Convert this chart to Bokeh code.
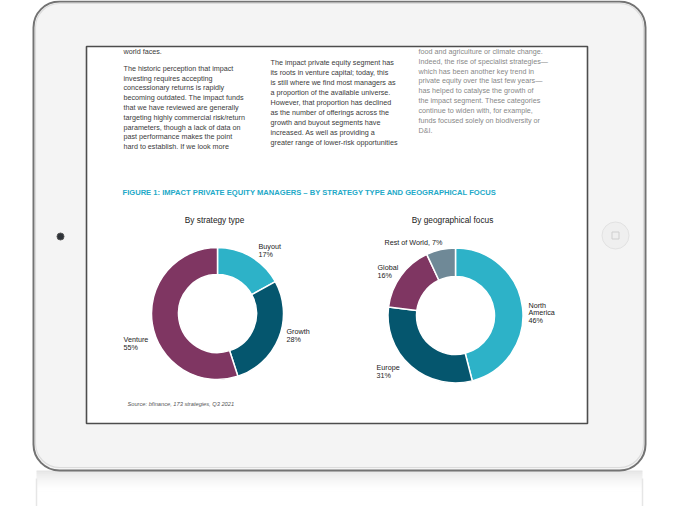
import numpy as np
from bokeh.plotting import figure
from bokeh.models import Range1d, ColumnDataSource
from bokeh.core.properties import value
from bokeh.embed import file_html
from bokeh.resources import INLINE

# ---------------- data ----------------
strategy_labels = ["Buyout", "Growth", "Venture"]
strategy_values = [17, 28, 55]
strategy_colors = ["#2db2c8", "#05566e", "#7f3662"]

geo_labels = ["North America", "Europe", "Global", "Rest of World"]
geo_values = [46, 31, 16, 7]
geo_colors = ["#2db2c8", "#05566e", "#7f3662", "#6f8997"]

fig_title = "FIGURE 1: IMPACT PRIVATE EQUITY MANAGERS \u2013 BY STRATEGY TYPE AND GEOGRAPHICAL FOCUS"
sub_titles = ["By strategy type", "By geographical focus"]
source_note = "Source: bfinance, 173 strategies, Q3 2021"

col1 = ["The historic perception that impact",
        "investing requires accepting",
        "concessionary returns is rapidly",
        "becoming outdated. The impact funds",
        "that we have reviewed are generally",
        "targeting highly commercial risk/return",
        "parameters, though a lack of data on",
        "past performance makes the point",
        "hard to establish. If we look more"]
col2 = ["The impact private equity segment has",
        "its roots in venture capital; today, this",
        "is still where we find most managers as",
        "a proportion of the available universe.",
        "However, that proportion has declined",
        "as the number of offerings across the",
        "growth and buyout segments have",
        "increased. As well as providing a",
        "greater range of lower-risk opportunities"]
col3 = ["food and agriculture or climate change.",
        "Indeed, the rise of specialist strategies\u2014",
        "which has been another key trend in",
        "private equity over the last few years\u2014",
        "has helped to catalyse the growth of",
        "the impact segment. These categories",
        "continue to widen with, for example,",
        "funds focused solely on biodiversity or",
        "D&I."]

FONT = "Liberation Sans"

W, H = 669, 506
p = figure(width=W, height=H, x_range=Range1d(0, 669), y_range=Range1d(16, 522),
           output_backend="svg", toolbar_location=None, min_border=0)
p.axis.visible = False
p.grid.visible = False
p.outline_line_color = None
p.background_fill_color = "white"
p.border_fill_color = "white"


def Y(y):
    return 522 - y


# ---------------- device ----------------
# soft reflection / shadow under device
for i in range(12):
    yy = 470 + i * 2.0
    p.quad(left=36, right=642, top=Y(yy), bottom=Y(yy + 2.0),
           fill_color="#d4d4d4", fill_alpha=0.6 * (1 - i / 12) ** 2.2, line_color=None)
# faint reflected edges
p.segment(x0=[36, 642], y0=[Y(478), Y(478)], x1=[36, 642], y1=[Y(506), Y(506)],
          line_color="#e6e6e6", line_width=1.5)

p.quad(left=33, right=645, top=Y(1), bottom=Y(470), border_radius=26,
       fill_color="#f4f4f4", line_color="#737373", line_width=2)
p.quad(left=35, right=643, top=Y(3), bottom=Y(467), border_radius=24,
       fill_color=None, line_color="#dcdcdc", line_width=1.2)

# screen
p.quad(left=86, right=587, top=Y(46), bottom=Y(423),
       fill_color="white", line_color="#4d4d4d", line_width=1.6)

# camera and home button
p.scatter(x=[60], y=[Y(236)], size=7, marker="circle", fill_color="#2e3238", line_color="#555")
p.scatter(x=[615], y=[Y(235)], size=27, marker="circle", fill_color="#efefef", line_color="#e2e2e2", line_width=1)
p.scatter(x=[615], y=[Y(235)], size=7, marker="square", fill_color=None, line_color="#cfcfcf", line_width=1)

# ---------------- body text ----------------
BODY = "7.2px"


def text_col(lines, x, y0, dy, color):
    ys = [Y(y0 + dy * i) for i in range(len(lines))]
    p.text(x=[x] * len(lines), y=ys, text=lines, text_font=value(FONT),
           text_font_size=BODY, text_color=color, text_baseline="middle", text_align="left")


p.text(x=[123], y=[Y(51)], text=["world faces."], text_font=value(FONT),
       text_font_size=BODY, text_color="#3a3a3a", text_baseline="middle")
text_col(col1, 123, 67.7, 9.8, "#3a3a3a")
text_col(col2, 270, 62.3, 10.0, "#3a3a3a")
text_col(col3, 418, 50.7, 9.9, "#888888")

# ---------------- figure title ----------------
p.text(x=[122], y=[Y(192)], text=[fig_title], text_font=value(FONT), text_font_style="bold",
       text_font_size="7.6px", text_color="#22a9c8", text_baseline="middle")
p.text(x=[214, 452], y=[Y(219), Y(219)], text=sub_titles, text_font=value(FONT),
       text_font_size="8.3px", text_color="#222222", text_baseline="middle", text_align="center")


# ---------------- donuts ----------------
def donut(cx, cy, r_in, r_out, vals, colors):
    v = np.array(vals, dtype=float)
    frac = v / v.sum()
    cum = np.concatenate([[0.0], np.cumsum(frac)])
    start = np.pi / 2 - cum[:-1] * 2 * np.pi
    end = np.pi / 2 - cum[1:] * 2 * np.pi
    src = ColumnDataSource(dict(start=start, end=end, color=colors))
    p.annular_wedge(x=cx, y=Y(cy), inner_radius=r_in, outer_radius=r_out,
                    start_angle="start", end_angle="end", direction="clock",
                    fill_color="color", line_color="white", line_width=1.5, source=src)


donut(217, 313, 39, 66, strategy_values, strategy_colors)
donut(455, 315, 39, 67.5, geo_values, geo_colors)


def label(lines, x, y0, dy=7.8):
    ys = [Y(y0 + dy * i) for i in range(len(lines))]
    p.text(x=[x] * len(lines), y=ys, text=lines, text_font=value(FONT),
           text_font_size="7.2px", text_color="#222222", text_baseline="middle", text_align="left")


# strategy labels
s_pos = [(258, 246), (286, 331), (123, 339)]
for name, val, (x, y) in zip(strategy_labels, strategy_values, s_pos):
    label([name, f"{val}%"], x, y)

# geography labels
label(["North", "America", f"{geo_values[0]}%"], 528, 305, 7.4)
label([geo_labels[1], f"{geo_values[1]}%"], 376, 367)
label([geo_labels[2], f"{geo_values[2]}%"], 377, 267)
label([f"{geo_labels[3]}, {geo_values[3]}%"], 384, 242)

p.text(x=[127], y=[Y(403)], text=[source_note], text_font=value(FONT), text_font_style="italic",
       text_font_size="5.7px", text_color="#555555", text_baseline="middle")

open("out.html", "w").write(file_html(p, INLINE))
